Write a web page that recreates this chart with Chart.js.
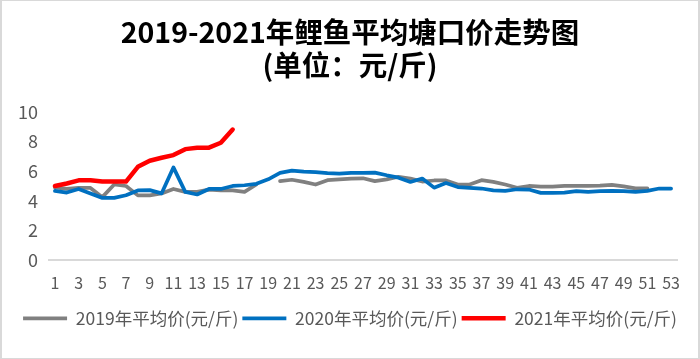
<!DOCTYPE html>
<html>
<head>
<meta charset="utf-8">
<script src="https://cdn.jsdelivr.net/npm/chart.js"></script>
<style>
    html, body { margin: 0; padding: 0; background: #fff; }
    #box {
        width: 700px; height: 359px; box-sizing: border-box;
        border: 1px solid #d9d9d9; border-left-width: 2px; border-right-width: 2px;
        position: relative;
    }
</style>
</head>
<body>
<div id="box"><canvas id="priceChart"></canvas></div>
<script>
// 周次 1-53
const weeks = [];
for (let i = 1; i <= 53; i++) weeks.push(String(i));

const titleLines = ['2019-2021年鲤鱼平均塘口价走势图', '(单位：元/斤)'];
const seriesNames = ['2019年平均价(元/斤)', '2020年平均价(元/斤)', '2021年平均价(元/斤)'];

// 2019年 (第19周缺数据)
const price2019 = [4.9, 4.8, 4.87, 4.87, 4.25, 5.1, 5.0, 4.37, 4.37, 4.5,
    4.8, 4.6, 4.6, 4.75, 4.7, 4.7, 4.6, 5.1, null, 5.33,
    5.42, 5.28, 5.1, 5.39, 5.44, 5.5, 5.52, 5.33, 5.45, 5.62,
    5.5, 5.3, 5.37, 5.37, 5.1, 5.1, 5.39, 5.28, 5.1, 4.88,
    5.0, 4.95, 4.95, 5.0, 5.0, 5.0, 5.03, 5.08, 4.98, 4.84,
    4.84, null, null];

// 2020年
const price2020 = [4.67, 4.56, 4.8, 4.49, 4.2, 4.2, 4.38, 4.7, 4.72, 4.5,
    6.25, 4.6, 4.43, 4.8, 4.8, 5.0, 5.05, 5.15, 5.45, 5.88,
    6.04, 5.96, 5.93, 5.86, 5.84, 5.88, 5.88, 5.9, 5.72, 5.56,
    5.27, 5.5, 4.89, 5.2, 4.93, 4.88, 4.83, 4.7, 4.67, 4.78,
    4.76, 4.54, 4.54, 4.56, 4.65, 4.6, 4.65, 4.67, 4.65, 4.6,
    4.67, 4.83, 4.83];

// 2021年
const price2021 = [5.0, 5.17, 5.38, 5.38, 5.3, 5.3, 5.3, 6.29, 6.7, 6.9,
    7.08, 7.48, 7.58, 7.58, 7.91, 8.8];

const yTicks = [0, 2, 4, 6, 8, 10];

const fontFamily = '"Noto Sans CJK SC", "Microsoft YaHei", sans-serif';

function makeLine(label, data, color, width, order) {
    return {
        label: label,
        data: data,
        borderColor: color,
        backgroundColor: color,
        borderWidth: width,
        borderCapStyle: 'round',
        borderJoinStyle: 'round',
        pointRadius: 0,
        pointHoverRadius: 0,
        tension: 0,
        spanGaps: false,
        order: order
    };
}

const ctx = document.getElementById('priceChart').getContext('2d');
window.priceChart = new Chart(ctx, {
    type: 'line',
    data: {
        labels: weeks,
        datasets: [
            makeLine(seriesNames[0], price2019, '#808080', 3.75, 3),
            makeLine(seriesNames[1], price2020, '#0070c0', 3.75, 2),
            makeLine(seriesNames[2], price2021, '#ff0000', 4.5, 1)
        ]
    },
    options: {
        responsive: true,
        maintainAspectRatio: false,
        animation: false,
        layout: { padding: { left: 0, right: 0, top: 0, bottom: 21 } },
        scales: {
            x: {
                offset: true,
                grid: { display: false, drawTicks: false },
                border: { display: true, color: '#d9d9d9', width: 2 },
                ticks: {
                    autoSkip: false,
                    maxRotation: 0,
                    padding: 13,
                    color: '#595959',
                    font: { family: fontFamily, size: 16 },
                    callback: function(value, index) {
                        return index % 2 === 0 ? weeks[index] : '';
                    }
                }
            },
            y: {
                min: 0,
                max: 10,
                afterFit: function(scale) { scale.width = 47; },
                grid: { display: false, drawTicks: false },
                border: { display: false },
                afterBuildTicks: function(scale) {
                    scale.ticks = yTicks.map(v => ({ value: v }));
                },
                ticks: {
                    padding: 11,
                    color: '#595959',
                    font: { family: fontFamily, size: 18 }
                }
            },
            // 右侧留白用的空轴
            yRight: {
                type: 'linear',
                position: 'right',
                afterFit: function(scale) { scale.width = 21; },
                grid: { display: false, drawTicks: false },
                border: { display: false },
                ticks: { display: false }
            }
        },
        plugins: {
            title: {
                display: true,
                text: titleLines,
                color: '#000',
                font: { family: fontFamily, size: 28.5, weight: 'bold', lineHeight: 1.17 },
                padding: { top: 14, bottom: 30 }
            },
            legend: {
                position: 'bottom',
                reverse: true,
                labels: {
                    usePointStyle: true,
                    pointStyle: 'line',
                    pointStyleWidth: 44,
                    color: '#595959',
                    padding: 4,
                    font: { family: fontFamily, size: 17.5 }
                }
            },
            tooltip: { enabled: false }
        }
    }
});
</script>
</body>
</html>
